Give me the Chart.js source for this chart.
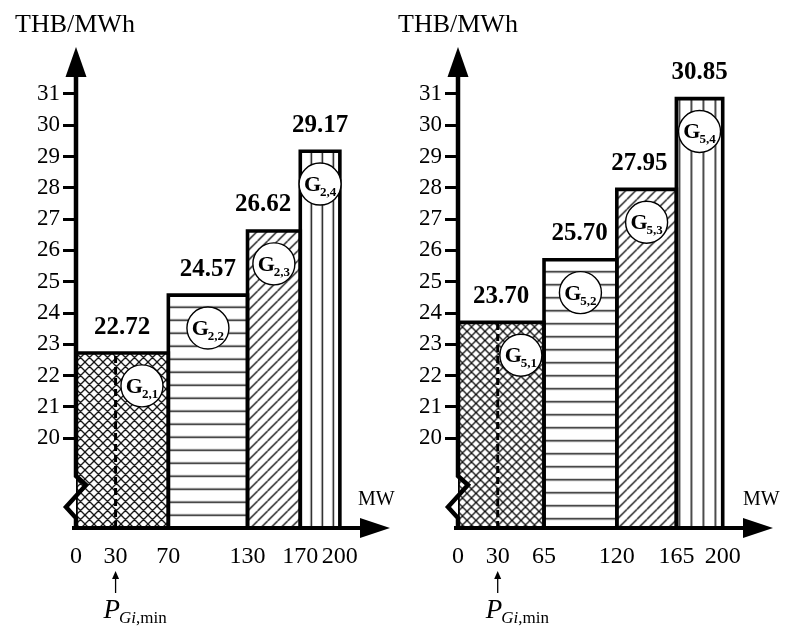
<!DOCTYPE html>
<html><head><meta charset="utf-8">
<script src="https://cdn.jsdelivr.net/npm/chart.js@4.4.0/dist/chart.umd.min.js"></script>
<style>
html,body{margin:0;padding:0;background:#fff;}
#wrap{position:relative;width:790px;height:628px;overflow:hidden;background:#fff;}
.panel{position:absolute;top:0;width:395px;height:628px;}
canvas{display:block;}
</style></head><body>
<div id="wrap">
<div class="panel" style="left:0"><canvas id="c1" width="395" height="628"></canvas></div>
<div class="panel" style="left:395px"><canvas id="c2" width="395" height="628"></canvas></div>
</div>
<script>
// ---------- data ----------
const unitLeft = '2';
const breaksLeft = [0, 70, 130, 170, 200];
const pricesLeft = [22.72, 24.57, 26.62, 29.17];
const unitRight = '5';
const breaksRight = [0, 65, 120, 165, 200];
const pricesRight = [23.70, 25.70, 27.95, 30.85];
const pMinMW = 30;
const yTickValues = [20, 21, 22, 23, 24, 25, 26, 27, 28, 29, 30, 31];
const yAxisTitle = 'THB/MWh';
const xAxisTitle = 'MW';

// ---------- scale ranges ----------
const Y_MIN = 17.13, Y_MAX = 32.5, X_MAX = 238;
const SERIF = '"Liberation Serif", "DejaVu Serif", serif';

function makePattern(kind, tile) {
  const c = document.createElement('canvas');
  let w = tile, h = tile;
  if (kind === 'horiz') w = 4;
  if (kind === 'vert') h = 4;
  c.width = w; c.height = h;
  const g = c.getContext('2d');
  g.strokeStyle = '#111';
  g.beginPath();
  if (kind === 'cross') {
    g.lineWidth = 1.3;
    for (const d of [-w, 0, w]) {
      g.moveTo(d, 0); g.lineTo(d + w, h);
      g.moveTo(d, h); g.lineTo(d + w, 0);
    }
  } else if (kind === 'diag') {
    g.lineWidth = 1.4;
    for (const d of [-w, 0, w]) { g.moveTo(d, h); g.lineTo(d + w, 0); }
  } else if (kind === 'horiz') {
    g.lineWidth = 1.5;
    g.moveTo(0, h / 2); g.lineTo(w, h / 2);
  } else if (kind === 'vert') {
    g.lineWidth = 1.5;
    g.moveTo(w / 2, 0); g.lineTo(w / 2, h);
  }
  g.stroke();
  const p = g.createPattern(c, 'repeat');
  return { kind, pattern: p, w, h };
}

function buildPanel(canvasId, unit, breaks, prices, cfg) {
  const pats = [makePattern('cross', 9), makePattern('horiz', 13), makePattern('diag', 10), makePattern('vert', cfg.vertTile)];
  const datasets = [];
  prices.forEach((p, i) => {
    datasets.push({
      type: 'line',
      data: [{x: breaks[i], y: Y_MIN}, {x: breaks[i], y: p}, {x: breaks[i + 1], y: p}, {x: breaks[i + 1], y: Y_MIN}],
      borderColor: '#000', borderWidth: 3.6, borderJoinStyle: 'miter',
      backgroundColor: pats[i].pattern, fill: 'start',
      pointRadius: 0, tension: 0, order: 3
    });
  });
  datasets.push({
    type: 'line',
    data: [{x: pMinMW, y: Y_MIN}, {x: pMinMW, y: prices[0]}],
    borderColor: '#000', borderWidth: 3, borderDash: [7, 4], fill: false,
    pointRadius: 0, order: 2
  });
  const circleIdx = datasets.length;
  datasets.push({
    type: 'line', showLine: false,
    data: prices.map((p, i) => ({x: i === 0 ? (pMinMW + breaks[1]) / 2 : (breaks[i] + breaks[i + 1]) / 2, y: p - 1.05})),
    pointRadius: 21, pointBackgroundColor: '#fff', pointBorderColor: '#000', pointBorderWidth: 1.4,
    order: 1, clip: false
  });

  const decor = {
    id: 'decor',
    beforeDatasetsDraw(chart) {
      const xs = chart.scales.x, ys = chart.scales.y;
      pats.forEach((pt, i) => {
        const x0 = xs.getPixelForValue(breaks[i]);
        const y0 = ys.getPixelForValue(prices[i]);
        let tx = 0, ty = 0;
        if (pt.kind === 'cross' || pt.kind === 'diag') { tx = x0; ty = y0; }
        if (pt.kind === 'horiz') { ty = y0 + 12 - pt.h / 2; }
        if (pt.kind === 'vert') { tx = x0 + cfg.vertOff - pt.w / 2; }
        if (pt.pattern.setTransform) pt.pattern.setTransform(new DOMMatrix([1, 0, 0, 1, tx, ty]));
      });
    },
    afterDatasetsDraw(chart) {
      const ctx = chart.ctx, xs = chart.scales.x, ys = chart.scales.y, a = chart.chartArea;
      ctx.save();
      ctx.fillStyle = '#000'; ctx.strokeStyle = '#000';
      // value labels
      ctx.font = 'bold 25px ' + SERIF;
      ctx.textAlign = 'center'; ctx.textBaseline = 'middle';
      prices.forEach((p, i) => {
        const txt = p.toFixed(2);
        const half = ctx.measureText(txt).width / 2;
        let cx = (xs.getPixelForValue(breaks[i]) + xs.getPixelForValue(breaks[i + 1])) / 2;
        if (i < prices.length - 1) cx = Math.min(cx, xs.getPixelForValue(breaks[i + 1]) - half - 9);
        ctx.fillText(txt, cx, ys.getPixelForValue(p) - 26);
      });
      // circle labels
      const meta = chart.getDatasetMeta(circleIdx);
      ctx.textAlign = 'left'; ctx.textBaseline = 'alphabetic';
      meta.data.forEach((pt, i) => {
        const sub = unit + ',' + (i + 1);
        ctx.font = 'bold 22px ' + SERIF;
        const wG = ctx.measureText('G').width;
        ctx.font = 'bold 13px ' + SERIF;
        const wS = ctx.measureText(sub).width;
        const sx = pt.x - (wG + wS - 1) / 2;
        ctx.font = 'bold 22px ' + SERIF;
        ctx.fillText('G', sx, pt.y + 7);
        ctx.font = 'bold 13px ' + SERIF;
        ctx.fillText(sub, sx + wG - 1, pt.y + 12);
      });
      // axes
      const L = a.left, B = a.bottom, T = a.top, R = a.right;
      ctx.lineWidth = 4.5; ctx.lineJoin = 'miter'; ctx.lineCap = 'butt';
      ctx.beginPath();
      ctx.moveTo(L, T + 26);
      ctx.lineTo(L, B - 52);
      ctx.lineTo(L + 10, B - 43);
      ctx.lineTo(L - 10, B - 21);
      ctx.lineTo(L, B - 10);
      ctx.lineTo(L, B + 2);
      ctx.stroke();
      ctx.beginPath();
      ctx.lineWidth = 4.2;
      ctx.moveTo(L - 4, B); ctx.lineTo(R - 26, B);
      ctx.stroke();
      ctx.beginPath();
      ctx.moveTo(L, T); ctx.lineTo(L - 10.5, T + 30); ctx.lineTo(L + 10.5, T + 30); ctx.closePath(); ctx.fill();
      ctx.beginPath();
      ctx.moveTo(R, B); ctx.lineTo(R - 30, B - 10); ctx.lineTo(R - 30, B + 10); ctx.closePath(); ctx.fill();
      // axis titles
      ctx.font = '26px ' + SERIF;
      ctx.fillText(yAxisTitle, cfg.titleX, 32);
      ctx.font = '20px ' + SERIF;
      ctx.fillText(xAxisTitle, cfg.mwX, 505);
      // P_Gi,min marker
      const ax = xs.getPixelForValue(pMinMW);
      ctx.lineWidth = 1.3;
      ctx.beginPath(); ctx.moveTo(ax, 593); ctx.lineTo(ax, 577); ctx.stroke();
      ctx.beginPath(); ctx.moveTo(ax, 571); ctx.lineTo(ax - 3.5, 579); ctx.lineTo(ax + 3.5, 579); ctx.closePath(); ctx.fill();
      ctx.font = 'italic 27px ' + SERIF;
      const px = ax - 12;
      ctx.fillText('P', px, 618);
      const wP = ctx.measureText('P').width;
      ctx.font = 'italic 17px ' + SERIF;
      ctx.fillText('Gi', px + wP - 1, 623);
      const wGi = ctx.measureText('Gi').width;
      ctx.font = '17px ' + SERIF;
      ctx.fillText(',min', px + wP - 1 + wGi, 623);
      ctx.restore();
    }
  };

  const xTicks = Array.from(new Set([...breaks, pMinMW])).sort((a, b) => a - b);

  return new Chart(document.getElementById(canvasId), {
    type: 'line',
    data: { datasets },
    options: {
      responsive: false, animation: false, events: [],
      layout: { autoPadding: false, padding: { left: 0, right: cfg.padRight, top: 47, bottom: 0 } },
      plugins: { legend: { display: false }, tooltip: { enabled: false }, title: { display: false } },
      scales: {
        x: {
          type: 'linear', min: 0, max: X_MAX,
          afterBuildTicks: s => { s.ticks = xTicks.map(v => ({ value: v })); },
          afterFit: s => { s.height = 100; s.paddingLeft = 0; s.paddingRight = 0; },
          grid: { display: false, drawTicks: false },
          border: { display: false },
          ticks: { font: { family: SERIF, size: 24 }, color: '#000', padding: 14, maxRotation: 0, autoSkip: false }
        },
        y: {
          type: 'linear', min: Y_MIN, max: Y_MAX,
          afterBuildTicks: s => { s.ticks = yTickValues.map(v => ({ value: v })); },
          afterFit: s => { s.width = cfg.axisLeft; s.paddingTop = 0; s.paddingBottom = 0; },
          grid: { drawOnChartArea: false, drawTicks: true, tickLength: 13, tickWidth: 3, tickColor: '#000', color: '#000' },
          border: { display: false },
          ticks: { font: { family: SERIF, size: 23 }, color: '#000', padding: 3, autoSkip: false }
        }
      }
    },
    plugins: [decor]
  });
}

buildPanel('c1', unitLeft, breaksLeft, pricesLeft, { axisLeft: 76, padRight: 5, vertTile: 11, vertOff: 11, titleX: 15, mwX: 358 });
buildPanel('c2', unitRight, breaksRight, pricesRight, { axisLeft: 63, padRight: 17, vertTile: 12, vertOff: 15, titleX: 3, mwX: 348 });
</script>
</body></html>
